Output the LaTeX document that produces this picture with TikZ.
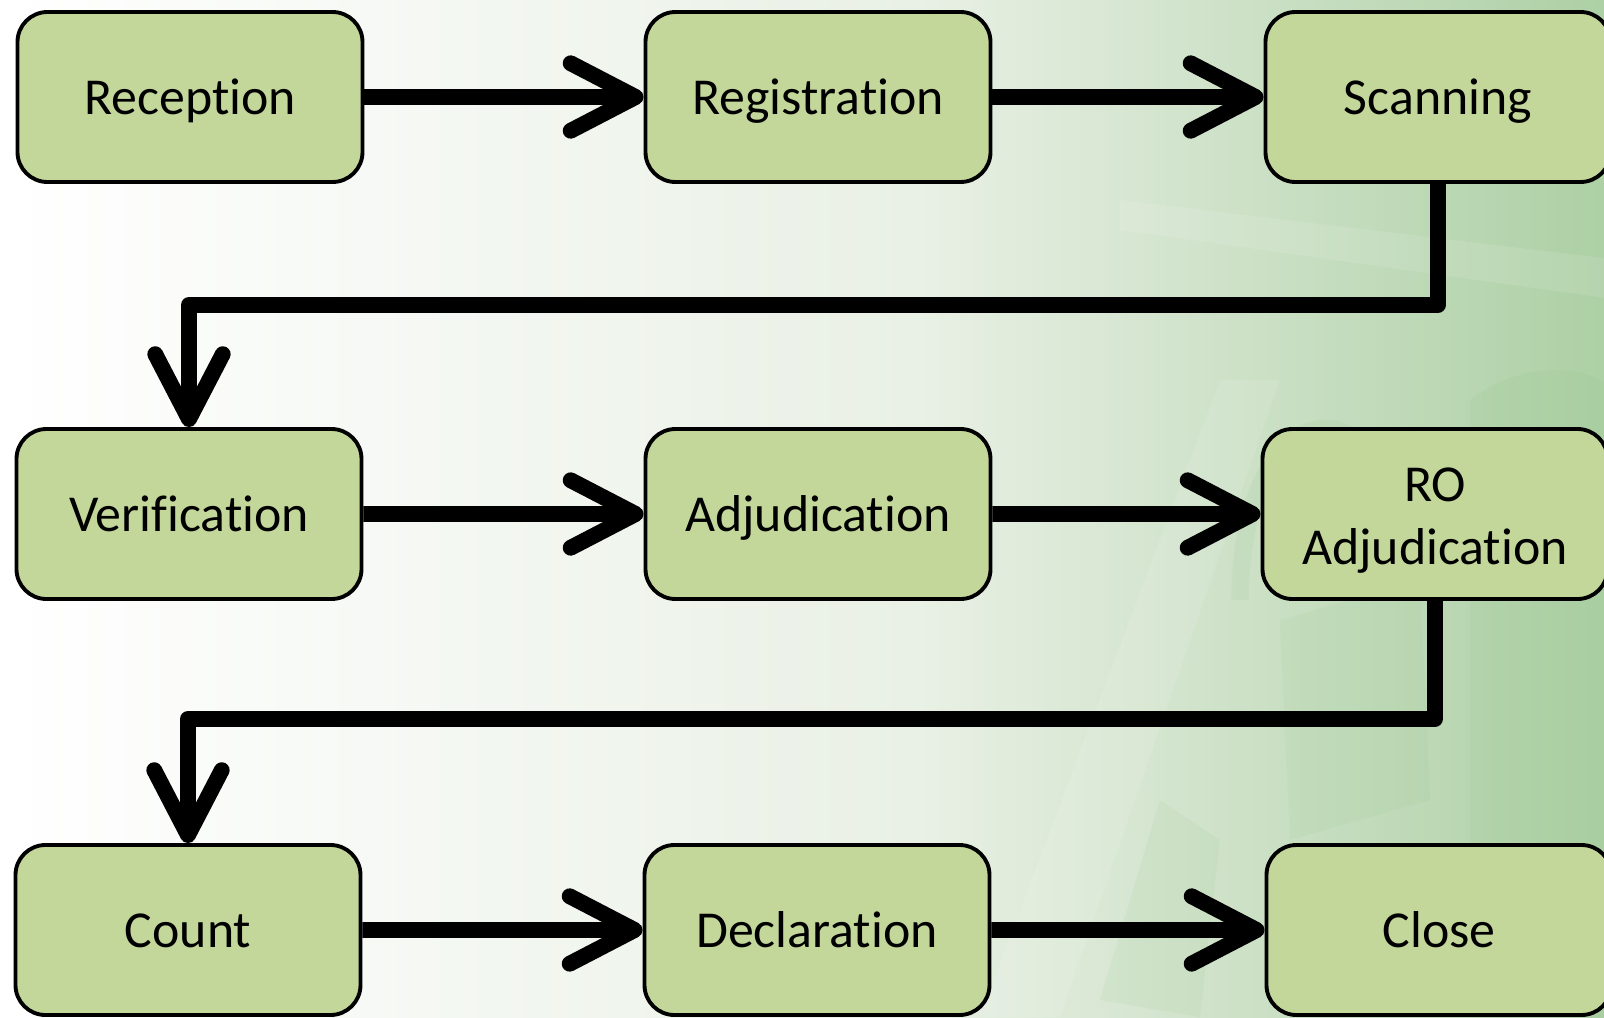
\documentclass[tikz,border=0pt]{standalone}
\usepackage{fontspec}
\setmainfont{Carlito}[Ligatures={NoCommon}]
\usepackage{xcolor}
\usepackage{tikz}
\usetikzlibrary{arrows.meta}
\definecolor{boxgreen}{HTML}{C4D79B}
\definecolor{bgpale}{HTML}{E9F0E5}
\definecolor{bggreen}{HTML}{ADD0A5}
\definecolor{bgshape}{HTML}{8FC285}
\newcommand{\stagestrut}{\rule[-0.27cm]{0pt}{1.22cm}}

\begin{document}
\begin{tikzpicture}[scale=0.2]
\tikzstyle{every node}+=[inner sep=0pt]
\tikzstyle{stage}=[draw=black, line width=2.2pt, fill=boxgreen, rounded corners=0.6cm, minimum width=6.9cm, minimum height=3.4cm, align=center, font=\fontsize{29.5}{36}\selectfont, execute at begin node=\stagestrut]
\tikzstyle{flow}=[line width=9pt, line join=round, -{Straight Barb[length=1.3cm, width=1.35cm, round]}]
\useasboundingbox (0,0) rectangle (160.4,-101.7);
\shade [left color=white, right color=bgpale] (0,0) rectangle (92,-101.7);
\shade [left color=bgpale, right color=bggreen] (92,0) rectangle (160.4,-101.7);
\fill [bgshape, opacity=0.13] (147,-40) .. controls (152,-36) and (160,-36) .. (162,-40) -- (162,-101.7) -- (147,-101.7) -- cycle;
\fill [bgshape, opacity=0.1] (128,-62) -- (142,-58) -- (143,-80) -- (129,-84) -- cycle;
\fill [bgshape, opacity=0.1] (110,-100) -- (116,-80) -- (122,-84) -- (120,-101.7) -- cycle;
\fill [white, opacity=0.1] (98,-101.7) -- (106,-101.7) -- (128,-38) -- (122,-38) -- cycle;
\fill [white, opacity=0.1] (112,-20) -- (162,-26) -- (162,-30) -- (112,-23) -- cycle;
\draw [bgshape, opacity=0.12, line width=10pt] (124,-60) .. controls (124,-40) and (138,-36) .. (141,-56);
\node [stage] (recep) at (19.0,-9.7) {Reception};
\node [stage] (regis) at (81.8,-9.7) {Registration};
\node [stage] (scan) at (143.8,-9.7) {Scanning};
\node [stage] (verif) at (18.9,-51.4) {Verification};
\node [stage] (adjud) at (81.8,-51.4) {Adjudication};
\node [stage] (roadj) at (143.5,-51.4) {\parbox[t]{6.6cm}{\centering\stagestrut RO\\Adjudication}};
\node [stage] (count) at (18.8,-93.0) {Count};
\node [stage] (decla) at (81.7,-93.0) {Declaration};
\node [stage] (close) at (143.9,-93.0) {Close};
\draw [flow] (recep) -- (regis);
\draw [flow] (regis) -- (scan);
\draw [flow] (scan.south) -- ++(0,-12.1) -| (verif.north);
\draw [flow] (verif) -- (adjud);
\draw [flow] (adjud) -- (roadj);
\draw [flow] (roadj.south) -- ++(0,-11.8) -| (count.north);
\draw [flow] (count) -- (decla);
\draw [flow] (decla) -- (close);
\end{tikzpicture}
\end{document}
